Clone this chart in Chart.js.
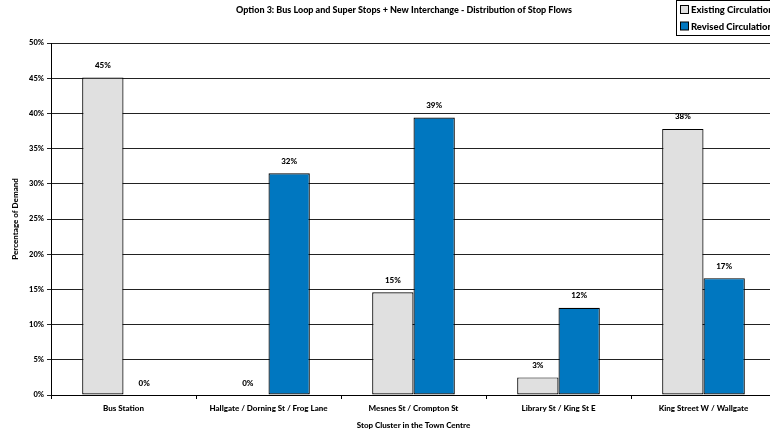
<!DOCTYPE html>
<html><head><meta charset="utf-8">
<script src="https://cdn.jsdelivr.net/npm/chart.js@4/dist/chart.umd.min.js"></script>
<style>
html,body{margin:0;padding:0;background:#fff;overflow:hidden;width:770px;height:436px;}
#wrap{position:relative;width:790px;height:436px;}
</style></head>
<body><div id="wrap"><canvas id="c" width="790" height="436"></canvas></div>
<script>
const categories = ["Bus Station","Hallgate / Dorning St / Frog Lane","Mesnes St / Crompton St","Library St / King St E","King Street W / Wallgate"];
const existingValues = [45.1, 0, 14.6, 2.5, 37.8];
const revisedValues = [0, 31.5, 39.4, 12.4, 16.6];
const seriesNames = ["Existing Circulation","Revised Circulation"];
const yTicks = [0,5,10,15,20,25,30,35,40,45,50];
const titleText = "Option 3: Bus Loop and Super Stops + New Interchange - Distribution of Stop Flows";
const xTitle = "Stop Cluster in the Town Centre";
const yTitle = "Percentage of Demand";

const FONT = "Lato, 'Open Sans', sans-serif";
const colors = ["#E0E0E0","#0077C0"];

const labelPlugin = {
  id:'labels',
  afterDatasetsDraw(chart){
    const ctx = chart.ctx;
    ctx.save();
    ctx.font = "900 8px " + FONT;
    ctx.fillStyle = "#000";
    ctx.textAlign = "center";
    ctx.textBaseline = "middle";
    chart.data.datasets.forEach((ds,i)=>{
      chart.getDatasetMeta(i).data.forEach((bar,j)=>{
        ctx.fillText(Math.round(ds.data[j]) + "%", bar.x, bar.y - 12);
      });
    });
    // title
    ctx.font = "900 9px " + FONT;
    ctx.fillText(titleText, 404, 10);
    // legend
    ctx.fillStyle="#fff";
    ctx.strokeStyle="#000";
    ctx.lineWidth=1;
    ctx.fillRect(676.5,0.5,110,35);
    ctx.strokeRect(676.5,0.5,110,35);
    ctx.font = "900 9.5px " + FONT;
    ctx.textAlign="left";
    seriesNames.forEach((n,i)=>{
      const y = 10 + i*16.5;
      ctx.fillStyle = colors[i];
      ctx.fillRect(680.5,y-4.5,8,8);
      ctx.strokeRect(680.5,y-4.5,8,8);
      ctx.fillStyle="#000";
      ctx.fillText(n, 691, y);
    });
    ctx.restore();
  }
};

new Chart(document.getElementById('c'), {
  type:'bar',
  data:{
    labels:categories,
    datasets:[
      {label:seriesNames[0], data:existingValues, backgroundColor:colors[0], borderColor:"#000", borderWidth:1.2, borderSkipped:false},
      {label:seriesNames[1], data:revisedValues, backgroundColor:colors[1], borderColor:"#000", borderWidth:1.2, borderSkipped:false}
    ]
  },
  options:{
    responsive:false,
    animation:false,
    layout:{padding:{top:43,right:14,left:0,bottom:0}},
    datasets:{bar:{categoryPercentage:0.57,barPercentage:1.0}},
    plugins:{legend:{display:false},tooltip:{enabled:false},title:{display:false}},
    scales:{
      x:{
        grid:{offset:true,drawOnChartArea:false,drawTicks:true,tickLength:4,color:"#000"},
        border:{color:"#000",width:1},
        ticks:{font:{family:FONT,size:8,weight:'900'},color:"#000",padding:5,maxRotation:0,autoSkip:false},
        title:{display:true,text:xTitle,font:{family:FONT,size:8,weight:'900'},color:"#000",padding:{top:2,bottom:6}},
        afterFit(s){s.height=41;}
      },
      y:{
        min:0,max:50,
        afterBuildTicks(s){s.ticks = yTicks.map(v=>({value:v}));},
        grid:{color:"#222",lineWidth:1,tickLength:4,drawTicks:true},
        border:{color:"#000",width:1},
        ticks:{font:{family:FONT,size:7.5,weight:'900'},color:"#000",padding:3,callback:v=>v+"%"},
        title:{display:true,text:yTitle,font:{family:FONT,size:8,weight:'900'},color:"#000",padding:{top:11,bottom:0}},
        afterFit(s){s.width=51;}
      }
    }
  },
  plugins:[labelPlugin]
});
</script></body></html>
